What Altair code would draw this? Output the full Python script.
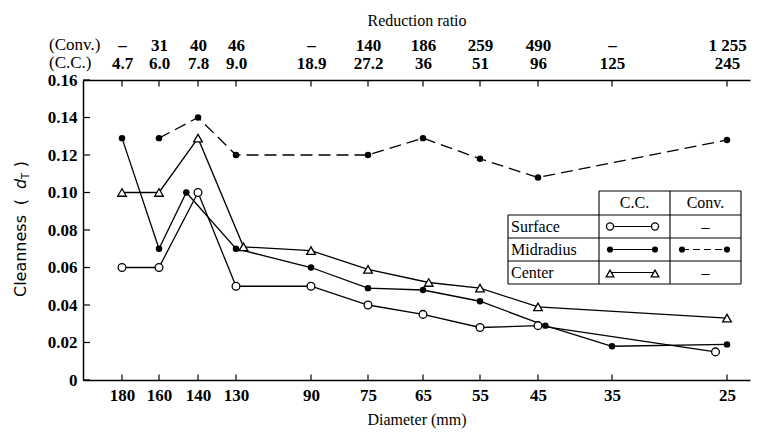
import json
import altair as alt
import pandas as pd

# ---------------- data ----------------
diameters = [180, 160, 140, 130, 90, 75, 65, 55, 45, 35, 25]
ratio_conv = ["–", "31", "40", "46", "–", "140", "186", "259", "490", "–", "1 255"]
ratio_cc = ["4.7", "6.0", "7.8", "9.0", "18.9", "27.2", "36", "51", "96", "125", "245"]
y_ticks = [0, 0.02, 0.04, 0.06, 0.08, 0.10, 0.12, 0.14, 0.16]

surface_cc_d = [180, 160, 140, 130, 90, 75, 65, 55, 45, 26]
surface_cc_v = [0.060, 0.060, 0.100, 0.050, 0.050, 0.040, 0.035, 0.028, 0.029, 0.015]

mid_cc_d = [180, 160, 146, 130, 90, 75, 65, 55, 44, 35, 25]
mid_cc_v = [0.129, 0.070, 0.100, 0.070, 0.060, 0.049, 0.048, 0.042, 0.029, 0.018, 0.019]

mid_conv_d = [160, 140, 130, 75, 65, 55, 45, 25]
mid_conv_v = [0.129, 0.140, 0.120, 0.120, 0.129, 0.118, 0.108, 0.128]

center_cc_d = [180, 160, 140, 126, 90, 75, 64, 55, 45, 25]
center_cc_v = [0.100, 0.100, 0.129, 0.071, 0.069, 0.059, 0.052, 0.049, 0.039, 0.033]

# ---------------- scales ----------------
W, H = 667, 300
SERIF = "Liberation Serif"
SANS = "DejaVu Sans"

# piecewise (non-uniform) diameter axis as in the original figure
x_dom = [200, 180, 160, 140, 130, 90, 75, 65, 55, 45, 35, 25, 23]
x_rng = [0, 39, 76, 115, 153, 228, 285, 340, 397, 455, 529, 644, 667]
xs = alt.Scale(domain=x_dom, range=x_rng, zero=False, nice=False)
ys = alt.Scale(domain=[0, 0.16], zero=False, nice=False)

ticks_df = pd.DataFrame({"d": diameters})
yt_df = pd.DataFrame({"v": y_ticks})
one = pd.DataFrame({"a": [0]})

top_expr = "[{c}[indexof({d}, datum.value)], {cc}[indexof({d}, datum.value)]]".format(
    c=json.dumps(ratio_conv, ensure_ascii=False),
    cc=json.dumps(ratio_cc, ensure_ascii=False),
    d=json.dumps(diameters),
)

# ---------------- axes (drawn with inward ticks) ----------------
bottom_axis = alt.Chart(ticks_df).mark_rule(color="black", strokeWidth=1.2).encode(
    x=alt.X("d:Q", scale=xs, axis=alt.Axis(
        orient="bottom", values=diameters, format="d", title="Diameter  (mm)",
        ticks=False, domain=True, domainColor="black", domainWidth=1.5,
        labelFont=SERIF, labelFontSize=17, labelFontWeight="bold", labelColor="black",
        labelPadding=7, labelOverlap=False, labelFlush=False,
        titleFont=SERIF, titleFontSize=16, titleFontWeight="normal", titleColor="black",
        titlePadding=8, grid=False)),
    y=alt.YDatum(0, type="quantitative", scale=ys, axis=None),
    y2=alt.Y2Datum(0.003),
)

top_axis = alt.Chart(ticks_df).mark_rule(color="black", strokeWidth=1.2).encode(
    x=alt.X("d:Q", scale=xs, axis=alt.Axis(
        orient="top", values=diameters, labelExpr=top_expr, title="Reduction ratio",
        ticks=False, domain=True, domainColor="black", domainWidth=1.5,
        labelFont=SERIF, labelFontSize=17, labelFontWeight="bold", labelColor="black",
        labelLineHeight=18, labelPadding=26, labelOverlap=False, labelFlush=False,
        titleFont=SERIF, titleFontSize=16, titleFontWeight="normal", titleColor="black",
        titlePadding=8, grid=False)),
    y=alt.YDatum(0.16, type="quantitative", scale=ys, axis=None),
    y2=alt.Y2Datum(0.1565),
)

y_axis = alt.Chart(yt_df).mark_rule(color="black", strokeWidth=1.2).encode(
    y=alt.Y("v:Q", scale=ys, axis=alt.Axis(
        orient="left", values=y_ticks, title=None, ticks=False, grid=False,
        domain=True, domainColor="black", domainWidth=1.5,
        labelExpr="datum.value == 0 ? '0' : format(datum.value, '.2f')",
        labelFont=SERIF, labelFontSize=17, labelFontWeight="bold", labelColor="black",
        labelPadding=6, labelOverlap=False, labelFlush=False)),
    x=alt.value(0),
    x2=alt.value(7),
)


# ---------------- series ----------------
def frame(d, v):
    return pd.DataFrame({"d": d, "v": v})


def enc(ch):
    return ch.encode(
        x=alt.X("d:Q", scale=xs, axis=None),
        y=alt.Y("v:Q", scale=ys, axis=None),
    )


surf = frame(surface_cc_d, surface_cc_v)
midc = frame(mid_cc_d, mid_cc_v)
midv = frame(mid_conv_d, mid_conv_v)
cent = frame(center_cc_d, center_cc_v)

lines = [
    enc(alt.Chart(surf).mark_line(color="black", strokeWidth=1.3)),
    enc(alt.Chart(midc).mark_line(color="black", strokeWidth=1.3)),
    enc(alt.Chart(midv).mark_line(color="black", strokeWidth=1.3, strokeDash=[12, 6])),
    enc(alt.Chart(cent).mark_line(color="black", strokeWidth=1.3)),
]
points = [
    enc(alt.Chart(surf).mark_point(shape="circle", filled=True, fill="white", stroke="black",
                                   strokeWidth=1.3, size=60, opacity=1)),
    enc(alt.Chart(midc).mark_circle(color="black", size=42, opacity=1)),
    enc(alt.Chart(midv).mark_circle(color="black", size=42, opacity=1)),
    enc(alt.Chart(cent).mark_point(shape="triangle-up", filled=True, fill="white", stroke="black",
                                   strokeWidth=1.3, size=75, opacity=1)),
]


# ---------------- table legend ----------------
def hr(x1, x2, y):
    return alt.Chart(one).mark_rule(color="black", strokeWidth=1.1).encode(
        x=alt.value(x1), x2=alt.value(x2), y=alt.value(y))


def vr(x, y1, y2):
    return alt.Chart(one).mark_rule(color="black", strokeWidth=1.1).encode(
        x=alt.value(x), y=alt.value(y1), y2=alt.value(y2))


def txt(s, x, y, align="center", size=16, font=SERIF, **kw):
    return alt.Chart(one).mark_text(text=s, align=align, baseline="middle", font=font,
                                    fontSize=size, color="black", **kw).encode(
        x=alt.value(x), y=alt.value(y))


L, C1, C2, R = 425, 516, 587, 658
T, R1, R2, R3, B = 111, 135, 158, 181, 204
ry = [(R1 + R2) / 2, (R2 + R3) / 2, (R3 + B) / 2]

legend = [
    alt.Chart(one).mark_rect(color="white").encode(
        x=alt.value(L), x2=alt.value(R), y=alt.value(T), y2=alt.value(B)),
    hr(C1, R, T), hr(L, R, R1), hr(L, R, R2), hr(L, R, R3), hr(L, R, B),
    vr(L, R1, B), vr(C1, T, B), vr(C2, T, B), vr(R, T, B),
    txt("C.C.", (C1 + C2) / 2, (T + R1) / 2),
    txt("Conv.", (C2 + R) / 2, (T + R1) / 2),
    txt("Surface", L + 3, ry[0], align="left"),
    txt("Midradius", L + 3, ry[1], align="left"),
    txt("Center", L + 3, ry[2], align="left"),
    txt("–", (C2 + R) / 2, ry[0]),
    txt("–", (C2 + R) / 2, ry[2]),
    # sample lines
    hr(527, 572, ry[0]), hr(527, 572, ry[1]), hr(527, 572, ry[2]),
    alt.Chart(one).mark_rule(color="black", strokeWidth=1.1, strokeDash=[7, 4]).encode(
        x=alt.value(599), x2=alt.value(644), y=alt.value(ry[1])),
]
for xx in (527, 572):
    legend.append(alt.Chart(one).mark_point(shape="circle", filled=True, fill="white", stroke="black",
                                            strokeWidth=1.3, size=50, opacity=1).encode(
        x=alt.value(xx), y=alt.value(ry[0])))
    legend.append(alt.Chart(one).mark_point(shape="triangle-up", filled=True, fill="white",
                                            stroke="black", strokeWidth=1.3, size=60, opacity=1).encode(
        x=alt.value(xx), y=alt.value(ry[2] + 1)))
for xx in (527, 572, 599, 644):
    legend.append(alt.Chart(one).mark_circle(color="black", size=38, opacity=1).encode(
        x=alt.value(xx), y=alt.value(ry[1])))

# ---------------- extra text: row captions and y title ----------------
extras = [
    txt("(Conv.)", -34, -35, align="left", size=17),
    txt("(C.C.)", -34, -17, align="left", size=17),
    txt("Cleanness", -62, 176, size=16, font=SANS, angle=270),
    txt("(", -62, 122, size=16, font=SANS, angle=270),
    txt("d", -62, 104, size=16, font=SANS, angle=270, fontStyle="italic"),
    txt("T", -57, 96, size=10, font=SANS, angle=270),
    txt(")", -62, 84, size=16, font=SANS, angle=270),
]

chart = (
    alt.layer(bottom_axis, top_axis, y_axis, *lines, *points, *legend, *extras)
    .resolve_axis(x="independent", y="independent")
    .properties(
        width=W, height=H,
        padding={"left": 75, "top": 72, "right": 3, "bottom": 52},
        autosize=alt.AutoSizeParams(type="none"),
        background="white",
    )
    .configure_view(stroke=None)
)

chart.save("out.html", embed_options={"renderer": "svg", "actions": False})
